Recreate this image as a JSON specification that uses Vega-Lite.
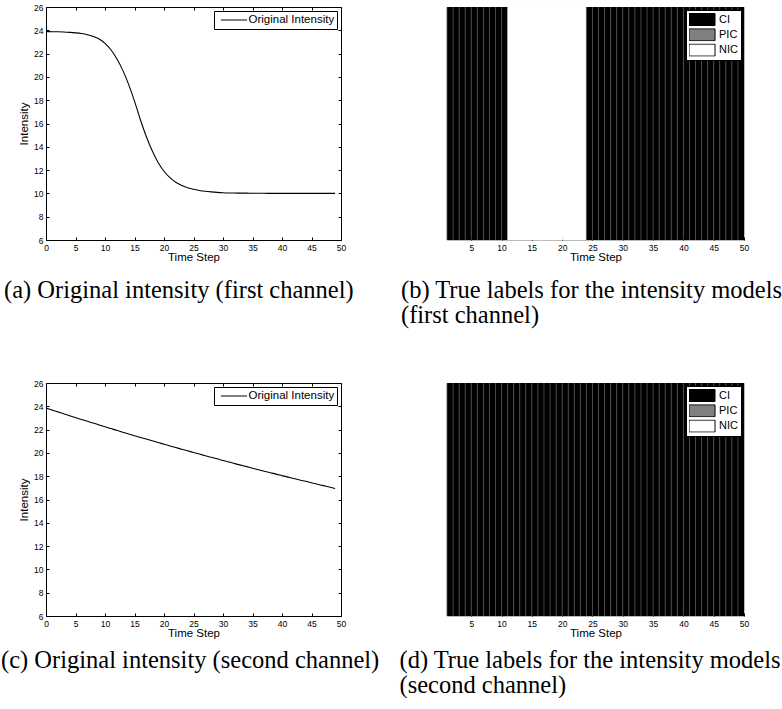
{
  "$schema": "https://vega.github.io/schema/vega-lite/v6.json",
  "background": "white",
  "padding": {"left": 0, "top": 2, "right": 0, "bottom": 0},
  "datasets": {
    "ch1": [
      {"t":0,"v":23.89,"series":"Original Intensity"},{"t":1,"v":23.88,"series":"Original Intensity"},{"t":2,"v":23.87,"series":"Original Intensity"},{"t":3,"v":23.85,"series":"Original Intensity"},{"t":4,"v":23.82,"series":"Original Intensity"},{"t":5,"v":23.78,"series":"Original Intensity"},{"t":6,"v":23.72,"series":"Original Intensity"},{"t":7,"v":23.62,"series":"Original Intensity"},{"t":8,"v":23.47,"series":"Original Intensity"},{"t":9,"v":23.25,"series":"Original Intensity"},
      {"t":10,"v":22.88,"series":"Original Intensity"},{"t":11,"v":22.33,"series":"Original Intensity"},{"t":12,"v":21.56,"series":"Original Intensity"},{"t":13,"v":20.58,"series":"Original Intensity"},{"t":14,"v":19.36,"series":"Original Intensity"},{"t":15,"v":17.92,"series":"Original Intensity"},{"t":16,"v":16.32,"series":"Original Intensity"},{"t":17,"v":14.88,"series":"Original Intensity"},{"t":18,"v":13.66,"series":"Original Intensity"},{"t":19,"v":12.66,"series":"Original Intensity"},
      {"t":20,"v":11.9,"series":"Original Intensity"},{"t":21,"v":11.35,"series":"Original Intensity"},{"t":22,"v":10.95,"series":"Original Intensity"},{"t":23,"v":10.68,"series":"Original Intensity"},{"t":24,"v":10.49,"series":"Original Intensity"},{"t":25,"v":10.35,"series":"Original Intensity"},{"t":26,"v":10.25,"series":"Original Intensity"},{"t":27,"v":10.18,"series":"Original Intensity"},{"t":28,"v":10.13,"series":"Original Intensity"},{"t":29,"v":10.09,"series":"Original Intensity"},
      {"t":30,"v":10.06,"series":"Original Intensity"},{"t":31,"v":10.04,"series":"Original Intensity"},{"t":32,"v":10.03,"series":"Original Intensity"},{"t":33,"v":10.02,"series":"Original Intensity"},{"t":34,"v":10.02,"series":"Original Intensity"},{"t":35,"v":10.01,"series":"Original Intensity"},{"t":36,"v":10.01,"series":"Original Intensity"},{"t":37,"v":10.01,"series":"Original Intensity"},{"t":38,"v":10.0,"series":"Original Intensity"},{"t":39,"v":10.0,"series":"Original Intensity"},
      {"t":40,"v":10.0,"series":"Original Intensity"},{"t":41,"v":10.0,"series":"Original Intensity"},{"t":42,"v":10.0,"series":"Original Intensity"},{"t":43,"v":10.0,"series":"Original Intensity"},{"t":44,"v":10.0,"series":"Original Intensity"},{"t":45,"v":10.0,"series":"Original Intensity"},{"t":46,"v":10.0,"series":"Original Intensity"},{"t":47,"v":10.0,"series":"Original Intensity"},{"t":48,"v":10.0,"series":"Original Intensity"},{"t":49,"v":10.0,"series":"Original Intensity"}
    ],
    "ch2": [
      {"t":0,"v":23.85,"series":"Original Intensity"},{"t":1,"v":23.68,"series":"Original Intensity"},{"t":2,"v":23.52,"series":"Original Intensity"},{"t":3,"v":23.36,"series":"Original Intensity"},{"t":4,"v":23.19,"series":"Original Intensity"},{"t":5,"v":23.03,"series":"Original Intensity"},{"t":6,"v":22.87,"series":"Original Intensity"},{"t":7,"v":22.71,"series":"Original Intensity"},{"t":8,"v":22.56,"series":"Original Intensity"},{"t":9,"v":22.4,"series":"Original Intensity"},
      {"t":10,"v":22.24,"series":"Original Intensity"},{"t":11,"v":22.09,"series":"Original Intensity"},{"t":12,"v":21.94,"series":"Original Intensity"},{"t":13,"v":21.78,"series":"Original Intensity"},{"t":14,"v":21.63,"series":"Original Intensity"},{"t":15,"v":21.48,"series":"Original Intensity"},{"t":16,"v":21.33,"series":"Original Intensity"},{"t":17,"v":21.19,"series":"Original Intensity"},{"t":18,"v":21.04,"series":"Original Intensity"},{"t":19,"v":20.89,"series":"Original Intensity"},
      {"t":20,"v":20.75,"series":"Original Intensity"},{"t":21,"v":20.6,"series":"Original Intensity"},{"t":22,"v":20.46,"series":"Original Intensity"},{"t":23,"v":20.32,"series":"Original Intensity"},{"t":24,"v":20.18,"series":"Original Intensity"},{"t":25,"v":20.04,"series":"Original Intensity"},{"t":26,"v":19.9,"series":"Original Intensity"},{"t":27,"v":19.76,"series":"Original Intensity"},{"t":28,"v":19.62,"series":"Original Intensity"},{"t":29,"v":19.49,"series":"Original Intensity"},
      {"t":30,"v":19.35,"series":"Original Intensity"},{"t":31,"v":19.22,"series":"Original Intensity"},{"t":32,"v":19.08,"series":"Original Intensity"},{"t":33,"v":18.95,"series":"Original Intensity"},{"t":34,"v":18.82,"series":"Original Intensity"},{"t":35,"v":18.69,"series":"Original Intensity"},{"t":36,"v":18.56,"series":"Original Intensity"},{"t":37,"v":18.43,"series":"Original Intensity"},{"t":38,"v":18.3,"series":"Original Intensity"},{"t":39,"v":18.18,"series":"Original Intensity"},
      {"t":40,"v":18.05,"series":"Original Intensity"},{"t":41,"v":17.92,"series":"Original Intensity"},{"t":42,"v":17.8,"series":"Original Intensity"},{"t":43,"v":17.68,"series":"Original Intensity"},{"t":44,"v":17.56,"series":"Original Intensity"},{"t":45,"v":17.43,"series":"Original Intensity"},{"t":46,"v":17.31,"series":"Original Intensity"},{"t":47,"v":17.19,"series":"Original Intensity"},{"t":48,"v":17.07,"series":"Original Intensity"},{"t":49,"v":16.95,"series":"Original Intensity"}
    ],
    "lab1": [
      {"t":1,"t_end":2,"label":"CI"},{"t":2,"t_end":3,"label":"CI"},{"t":3,"t_end":4,"label":"CI"},{"t":4,"t_end":5,"label":"CI"},{"t":5,"t_end":6,"label":"CI"},{"t":6,"t_end":7,"label":"CI"},{"t":7,"t_end":8,"label":"CI"},{"t":8,"t_end":9,"label":"CI"},{"t":9,"t_end":10,"label":"CI"},{"t":10,"t_end":11,"label":"CI"},
      {"t":11,"t_end":12,"label":"NIC"},{"t":12,"t_end":13,"label":"NIC"},{"t":13,"t_end":14,"label":"NIC"},{"t":14,"t_end":15,"label":"NIC"},{"t":15,"t_end":16,"label":"NIC"},{"t":16,"t_end":17,"label":"NIC"},{"t":17,"t_end":18,"label":"NIC"},{"t":18,"t_end":19,"label":"NIC"},{"t":19,"t_end":20,"label":"NIC"},{"t":20,"t_end":21,"label":"NIC"},{"t":21,"t_end":22,"label":"NIC"},{"t":22,"t_end":23,"label":"NIC"},{"t":23,"t_end":24,"label":"NIC"},
      {"t":24,"t_end":25,"label":"CI"},{"t":25,"t_end":26,"label":"CI"},{"t":26,"t_end":27,"label":"CI"},{"t":27,"t_end":28,"label":"CI"},{"t":28,"t_end":29,"label":"CI"},{"t":29,"t_end":30,"label":"CI"},{"t":30,"t_end":31,"label":"CI"},{"t":31,"t_end":32,"label":"CI"},{"t":32,"t_end":33,"label":"CI"},{"t":33,"t_end":34,"label":"CI"},{"t":34,"t_end":35,"label":"CI"},{"t":35,"t_end":36,"label":"CI"},{"t":36,"t_end":37,"label":"CI"},
      {"t":37,"t_end":38,"label":"CI"},{"t":38,"t_end":39,"label":"CI"},{"t":39,"t_end":40,"label":"CI"},{"t":40,"t_end":41,"label":"CI"},{"t":41,"t_end":42,"label":"CI"},{"t":42,"t_end":43,"label":"CI"},{"t":43,"t_end":44,"label":"CI"},{"t":44,"t_end":45,"label":"CI"},{"t":45,"t_end":46,"label":"CI"},{"t":46,"t_end":47,"label":"CI"},{"t":47,"t_end":48,"label":"CI"},{"t":48,"t_end":49,"label":"CI"},{"t":49,"t_end":50,"label":"CI"}
    ],
    "lab2": [
      {"t":1,"t_end":2,"label":"CI"},{"t":2,"t_end":3,"label":"CI"},{"t":3,"t_end":4,"label":"CI"},{"t":4,"t_end":5,"label":"CI"},{"t":5,"t_end":6,"label":"CI"},{"t":6,"t_end":7,"label":"CI"},{"t":7,"t_end":8,"label":"CI"},{"t":8,"t_end":9,"label":"CI"},{"t":9,"t_end":10,"label":"CI"},{"t":10,"t_end":11,"label":"CI"},
      {"t":11,"t_end":12,"label":"CI"},{"t":12,"t_end":13,"label":"CI"},{"t":13,"t_end":14,"label":"CI"},{"t":14,"t_end":15,"label":"CI"},{"t":15,"t_end":16,"label":"CI"},{"t":16,"t_end":17,"label":"CI"},{"t":17,"t_end":18,"label":"CI"},{"t":18,"t_end":19,"label":"CI"},{"t":19,"t_end":20,"label":"CI"},{"t":20,"t_end":21,"label":"CI"},{"t":21,"t_end":22,"label":"CI"},{"t":22,"t_end":23,"label":"CI"},{"t":23,"t_end":24,"label":"CI"},
      {"t":24,"t_end":25,"label":"CI"},{"t":25,"t_end":26,"label":"CI"},{"t":26,"t_end":27,"label":"CI"},{"t":27,"t_end":28,"label":"CI"},{"t":28,"t_end":29,"label":"CI"},{"t":29,"t_end":30,"label":"CI"},{"t":30,"t_end":31,"label":"CI"},{"t":31,"t_end":32,"label":"CI"},{"t":32,"t_end":33,"label":"CI"},{"t":33,"t_end":34,"label":"CI"},{"t":34,"t_end":35,"label":"CI"},{"t":35,"t_end":36,"label":"CI"},{"t":36,"t_end":37,"label":"CI"},
      {"t":37,"t_end":38,"label":"CI"},{"t":38,"t_end":39,"label":"CI"},{"t":39,"t_end":40,"label":"CI"},{"t":40,"t_end":41,"label":"CI"},{"t":41,"t_end":42,"label":"CI"},{"t":42,"t_end":43,"label":"CI"},{"t":43,"t_end":44,"label":"CI"},{"t":44,"t_end":45,"label":"CI"},{"t":45,"t_end":46,"label":"CI"},{"t":46,"t_end":47,"label":"CI"},{"t":47,"t_end":48,"label":"CI"},{"t":48,"t_end":49,"label":"CI"},{"t":49,"t_end":50,"label":"CI"}
    ]
  },
  "config": {
    "view": {"stroke": "black", "strokeWidth": 1},
    "axis": {
      "labelFont": "Liberation Sans", "labelFontSize": 8.5, "labelColor": "black",
      "titleFont": "Liberation Sans", "titleFontSize": 11.5, "titleFontWeight": "normal", "titleColor": "black",
      "tickColor": "black", "tickSize": -3, "tickWidth": 1, "grid": false, "domain": false,
      "labelPadding": 6, "labelFlush": false, "minExtent": 0, "labelOverlap": false
    },
    "legend": {
      "labelFont": "Liberation Sans", "labelColor": "black", "labelLimit": 0,
      "fillColor": "white", "strokeColor": "black", "orient": "top-right", "offset": 4, "title": null
    },
    "title": {
      "font": "Liberation Serif", "fontSize": 24.5, "fontWeight": "normal", "color": "black",
      "anchor": "start", "orient": "bottom", "frame": "group", "lineHeight": 25
    }
  },
  "columns": 2,
  "spacing": {"row": 143, "column": 106},
  "bounds": "flush",
  "resolve": {"scale": {"color": "independent"}, "legend": {"color": "independent"}},
  "concat": [
    {
      "width": 295, "height": 233,
      "title": {"text": "(a) Original intensity (first channel)", "dx": -42, "offset": 16},
      "layer": [
        {
          "data": {"name": "ch1"},
          "mark": {"type": "line", "strokeWidth": 1.1, "interpolate": "monotone"},
          "encoding": {
            "x": {"field": "t", "type": "quantitative", "title": "Time Step",
                  "scale": {"domain": [0, 50], "nice": false, "zero": false},
                  "axis": {"orient": "bottom", "values": [0,5,10,15,20,25,30,35,40,45,50], "titlePadding": 0}},
            "y": {"field": "v", "type": "quantitative", "title": "Intensity",
                  "scale": {"domain": [6, 26], "nice": false, "zero": false},
                  "axis": {"orient": "left", "values": [6,8,10,12,14,16,18,20,22,24,26], "titlePadding": 4.5}},
            "color": {"field": "series", "type": "nominal", "scale": {"range": ["black"]},
                      "legend": {"symbolType": "M-2.17,0L2.17,0", "symbolSize": 144, "symbolStrokeWidth": 1,
                                 "symbolOffset": 11, "labelOffset": 8, "labelFontSize": 11.5, "padding": 2.5, "clipHeight": 13}}
          }
        },
        {
          "data": {"name": "ch1"},
          "mark": {"type": "line", "strokeOpacity": 0},
          "encoding": {
            "x": {"field": "t", "type": "quantitative", "title": null,
                  "axis": {"orient": "top", "values": [0,5,10,15,20,25,30,35,40,45,50], "labels": false, "title": null}},
            "y": {"field": "v", "type": "quantitative", "title": null,
                  "axis": {"orient": "right", "values": [6,8,10,12,14,16,18,20,22,24,26], "labels": false, "title": null}}
          }
        }
      ],
      "resolve": {"axis": {"x": "independent", "y": "independent"}}
    },
    {
      "width": 297, "height": 233,
      "view": {"stroke": "#bbbbbb"},
      "title": {"text": ["(b) True labels for the intensity models", "(first channel)"], "dx": -46, "offset": 16},
      "layer": [
        {
          "data": {"name": "lab1"},
          "mark": {"type": "rect"},
          "encoding": {
            "x": {"field": "t", "type": "quantitative", "title": "Time Step",
                  "scale": {"domain": [1, 50], "nice": false, "zero": false},
                  "axis": {"values": [5,10,15,20,25,30,35,40,45,50], "labelOverlap": false, "titlePadding": 0}},
            "x2": {"field": "t_end"},
            "color": {"field": "label", "type": "nominal",
                      "scale": {"domain": ["CI", "PIC", "NIC"], "range": ["black", "#808080", "white"]},
                      "legend": {"symbolType": "M-2.17,-1L2.17,-1L2.17,1L-2.17,1Z", "symbolSize": 144,
                                 "symbolStrokeColor": "black", "symbolStrokeWidth": 1,
                                 "symbolOffset": 6.5, "labelOffset": 10.5, "labelFontSize": 11,
                                 "rowPadding": 2.3, "padding": 3, "clipHeight": 13, "offset": 3}}
          }
        },
        {
          "data": {"name": "lab1"},
          "transform": [{"filter": "datum.label === 'CI'"}],
          "mark": {"type": "rule", "color": "#4e4e4e", "strokeWidth": 0.8},
          "encoding": {
            "x": {"field": "t", "type": "quantitative", "title": "Time Step",
                  "axis": {"values": [5,10,15,20,25,30,35,40,45,50], "labelOverlap": false, "titlePadding": 0}}
          }
        }
      ]
    },
    {
      "width": 295, "height": 233,
      "title": {"text": "(c) Original intensity (second channel)", "dx": -45, "offset": 10},
      "layer": [
        {
          "data": {"name": "ch2"},
          "mark": {"type": "line", "strokeWidth": 1.1, "interpolate": "monotone"},
          "encoding": {
            "x": {"field": "t", "type": "quantitative", "title": "Time Step",
                  "scale": {"domain": [0, 50], "nice": false, "zero": false},
                  "axis": {"orient": "bottom", "values": [0,5,10,15,20,25,30,35,40,45,50], "titlePadding": 0}},
            "y": {"field": "v", "type": "quantitative", "title": "Intensity",
                  "scale": {"domain": [6, 26], "nice": false, "zero": false},
                  "axis": {"orient": "left", "values": [6,8,10,12,14,16,18,20,22,24,26], "titlePadding": 4.5}},
            "color": {"field": "series", "type": "nominal", "scale": {"range": ["black"]},
                      "legend": {"symbolType": "M-2.17,0L2.17,0", "symbolSize": 144, "symbolStrokeWidth": 1,
                                 "symbolOffset": 11, "labelOffset": 8, "labelFontSize": 11.5, "padding": 2.5, "clipHeight": 13}}
          }
        },
        {
          "data": {"name": "ch2"},
          "mark": {"type": "line", "strokeOpacity": 0},
          "encoding": {
            "x": {"field": "t", "type": "quantitative", "title": null,
                  "axis": {"orient": "top", "values": [0,5,10,15,20,25,30,35,40,45,50], "labels": false, "title": null}},
            "y": {"field": "v", "type": "quantitative", "title": null,
                  "axis": {"orient": "right", "values": [6,8,10,12,14,16,18,20,22,24,26], "labels": false, "title": null}}
          }
        }
      ],
      "resolve": {"axis": {"x": "independent", "y": "independent"}}
    },
    {
      "width": 297, "height": 233,
      "view": {"stroke": "#bbbbbb"},
      "title": {"text": ["(d) True labels for the intensity models", "(second channel)"], "dx": -47.5, "offset": 10},
      "layer": [
        {
          "data": {"name": "lab2"},
          "mark": {"type": "rect"},
          "encoding": {
            "x": {"field": "t", "type": "quantitative", "title": "Time Step",
                  "scale": {"domain": [1, 50], "nice": false, "zero": false},
                  "axis": {"values": [5,10,15,20,25,30,35,40,45,50], "labelOverlap": false, "titlePadding": 0}},
            "x2": {"field": "t_end"},
            "color": {"field": "label", "type": "nominal",
                      "scale": {"domain": ["CI", "PIC", "NIC"], "range": ["black", "#808080", "white"]},
                      "legend": {"symbolType": "M-2.17,-1L2.17,-1L2.17,1L-2.17,1Z", "symbolSize": 144,
                                 "symbolStrokeColor": "black", "symbolStrokeWidth": 1,
                                 "symbolOffset": 6.5, "labelOffset": 10.5, "labelFontSize": 11,
                                 "rowPadding": 2.3, "padding": 3, "clipHeight": 13, "offset": 3}}
          }
        },
        {
          "data": {"name": "lab2"},
          "transform": [{"filter": "datum.label === 'CI'"}],
          "mark": {"type": "rule", "color": "#4e4e4e", "strokeWidth": 0.8},
          "encoding": {
            "x": {"field": "t", "type": "quantitative", "title": "Time Step",
                  "axis": {"values": [5,10,15,20,25,30,35,40,45,50], "labelOverlap": false, "titlePadding": 0}}
          }
        }
      ]
    }
  ]
}
